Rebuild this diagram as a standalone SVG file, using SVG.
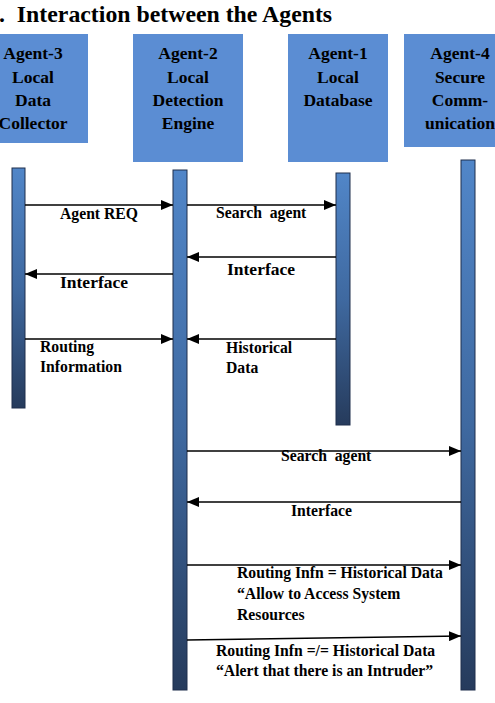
<svg xmlns="http://www.w3.org/2000/svg" width="495" height="703" viewBox="0 0 495 703">
<style>
.title{font-family:'Liberation Serif','Times New Roman',serif;font-weight:bold;font-size:23.8px;fill:#000}
.box{fill:#5B8DD3}
.bt{font-family:'Liberation Serif','Times New Roman',serif;font-weight:bold;font-size:17.5px;fill:#000;text-anchor:middle}
.bar{fill:url(#barg);stroke:#1e2f4c;stroke-width:1}
.msg{stroke:#000;stroke-width:1.6;fill:none;marker-end:url(#ah)}
.lbl{font-family:'Liberation Serif','Times New Roman',serif;font-weight:bold;font-size:15.7px;fill:#000}
.lbl2{font-family:'Liberation Serif','Times New Roman',serif;font-weight:bold;font-size:17.5px;fill:#000}
</style>
<defs>
<linearGradient id="barg" x1="0" y1="0" x2="0" y2="1">
<stop offset="0" stop-color="#5186c8"/>
<stop offset="0.5" stop-color="#3f69a0"/>
<stop offset="1" stop-color="#263b5c"/>
</linearGradient>
<marker id="ah" viewBox="0 0 12 10" refX="12" refY="5" markerWidth="12" markerHeight="10" markerUnits="userSpaceOnUse" orient="auto">
<path d="M0,0 L12,5 L0,10 Z" fill="#000"/>
</marker>
</defs>
<rect width="495" height="703" fill="#fff"/>
<text class="title" x="-1" y="22" xml:space="preserve">.  Interaction between the Agents</text>

<g id="agent3">
<rect class="box" x="-2" y="34" width="90" height="109"/>
<text class="bt" x="33" y="59">Agent-3</text>
<text class="bt" x="33" y="82.5">Local</text>
<text class="bt" x="33" y="106">Data</text>
<text class="bt" x="33" y="129">Collector</text>
<rect class="bar" x="12" y="168" width="13" height="240"/>
</g>
<g id="agent2">
<rect class="box" x="133" y="34" width="110" height="128"/>
<text class="bt" x="188" y="59">Agent-2</text>
<text class="bt" x="188" y="82.5">Local</text>
<text class="bt" x="188" y="106">Detection</text>
<text class="bt" x="188" y="129">Engine</text>
<rect class="bar" x="173" y="170" width="14" height="520"/>
</g>
<g id="agent1">
<rect class="box" x="288" y="34" width="100" height="128"/>
<text class="bt" x="338" y="59">Agent-1</text>
<text class="bt" x="338" y="82.5">Local</text>
<text class="bt" x="338" y="106">Database</text>
<rect class="bar" x="336" y="173" width="14" height="252"/>
</g>
<g id="agent4">
<rect class="box" x="404" y="34" width="95" height="113"/>
<text class="bt" x="460" y="59">Agent-4</text>
<text class="bt" x="460" y="82.5">Secure</text>
<text class="bt" x="460" y="106">Comm-</text>
<text class="bt" x="460" y="129">unication</text>
<rect class="bar" x="461" y="160" width="14" height="530"/>
</g>

<g id="connectors">
<line class="msg" x1="25" y1="205" x2="173" y2="205"/>
<line class="msg" x1="187" y1="205" x2="336" y2="205"/>
<line class="msg" x1="336" y1="257" x2="187" y2="257"/>
<line class="msg" x1="173" y1="274" x2="25" y2="274"/>
<line class="msg" x1="25" y1="339" x2="173" y2="339"/>
<line class="msg" x1="336" y1="339" x2="187" y2="339"/>
<line class="msg" x1="187" y1="451" x2="461" y2="451"/>
<line class="msg" x1="461" y1="502" x2="187" y2="502"/>
<line class="msg" x1="187" y1="565" x2="461" y2="565"/>
<line class="msg" x1="187" y1="640" x2="461" y2="636"/>
</g>

<g id="labels">
<text class="lbl" x="60" y="219">Agent REQ</text>
<text class="lbl" x="216" y="218" xml:space="preserve">Search  agent</text>
<text class="lbl2" x="227" y="275">Interface</text>
<text class="lbl2" x="60" y="288">Interface</text>
<text class="lbl" x="40" y="352">Routing</text>
<text class="lbl" x="40" y="372">Information</text>
<text class="lbl" x="226" y="353">Historical</text>
<text class="lbl" x="226" y="373">Data</text>
<text class="lbl" x="281" y="461" xml:space="preserve">Search  agent</text>
<text class="lbl" x="291" y="516">Interface</text>
<text class="lbl" x="237" y="578">Routing Infn = Historical Data</text>
<text class="lbl" x="237" y="599">“Allow to Access System</text>
<text class="lbl" x="237" y="620">Resources</text>
<text class="lbl" x="216" y="656">Routing Infn =/= Historical Data</text>
<text class="lbl" x="216" y="676">“Alert that there is an Intruder”</text>
</g>
</svg>
